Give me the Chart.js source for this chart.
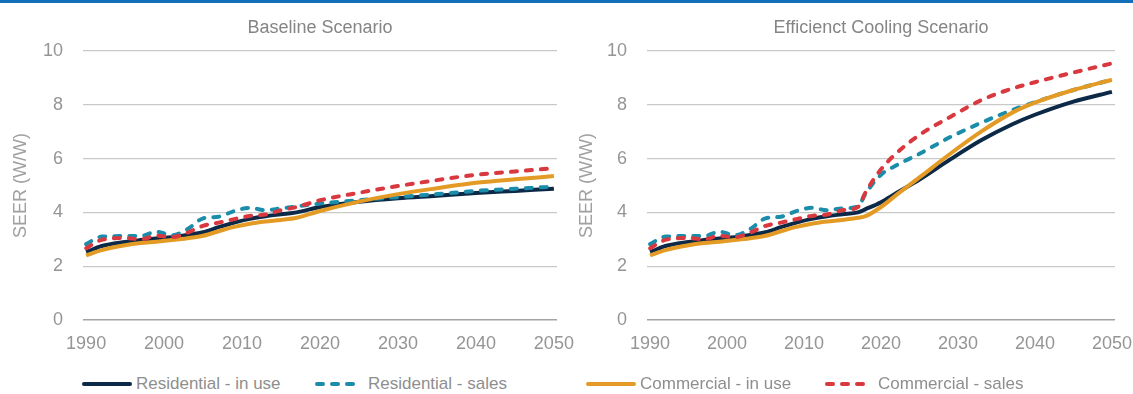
<!DOCTYPE html>
<html>
<head>
<meta charset="utf-8">
<script src="https://cdn.jsdelivr.net/npm/chart.js@4/dist/chart.umd.min.js"></script>
<style>
  body { margin: 0; width: 1133px; height: 394px; background: #fff; overflow: hidden;
         font-family: 'Liberation Sans', Arial, sans-serif; }
  #topbar { position: absolute; left: 0; top: 0; width: 1133px; height: 3px; background: #1170b9; }
  .box { position: absolute; top: 4px; height: 360px; }
  #left { left: 0; width: 590px; }
  #right { left: 566px; width: 567px; }
  .lg { position: absolute; top: 372px; height: 24px; display: flex; align-items: center;
        font-size: 17px; color: #8e8e8e; white-space: nowrap; }
  .lg svg { margin-right: 3px; }
</style>
</head>
<body>
<div id="topbar"></div>
<div class="box" id="left"><canvas id="baseChart"></canvas></div>
<div class="box" id="right"><canvas id="effChart"></canvas></div>
<div id="legend"></div>
<script>
// colours
const col = {
    resUse: '#0c2a47',
    resSales: '#1b8dab',
    comUse: '#e49b25',
    comSales: '#d9383e',
    tick: '#959595',
    grid: '#c9c9c9',
    zero: '#a3a3a3'
};
const FONT = "'Liberation Sans', Arial, sans-serif";

// ---------- data (SEER, W/W) ----------
// history is shared by both scenarios
const histYears = [1990, 1992, 1995, 1997, 1999, 2001, 2003, 2005, 2007, 2009, 2011, 2013, 2015, 2017];
const resUseHist   = [2.52, 2.75, 2.90, 2.97, 3.03, 3.08, 3.16, 3.26, 3.45, 3.62, 3.76, 3.86, 3.93, 4.00];
const resSalesHist = [2.82, 3.10, 3.12, 3.12, 3.28, 3.15, 3.38, 3.78, 3.84, 4.05, 4.17, 4.08, 4.15, 4.22];
const comUseHist   = [2.40, 2.60, 2.78, 2.86, 2.91, 2.97, 3.04, 3.13, 3.30, 3.46, 3.58, 3.66, 3.72, 3.80];
const comSalesHist = [2.67, 2.98, 3.05, 3.00, 3.13, 3.08, 3.25, 3.50, 3.62, 3.75, 3.87, 3.92, 4.08, 4.20];

// baseline projection
const baseYears     = [2020, 2025, 2030, 2035, 2040, 2045, 2050];
const resUseBase    = [4.20, 4.40, 4.53, 4.62, 4.72, 4.80, 4.88];
const resSalesBase  = [4.33, 4.45, 4.57, 4.68, 4.80, 4.88, 4.96];
const comUseBase    = [4.05, 4.40, 4.68, 4.90, 5.10, 5.23, 5.35];
const comSalesBase  = [4.45, 4.73, 4.98, 5.20, 5.40, 5.52, 5.64];

// efficient cooling projection
const effYears     = [2018, 2020, 2022, 2025, 2029, 2033, 2037, 2040, 2045, 2050];
const resUseEff    = [4.12, 4.38, 4.72, 5.22, 5.97, 6.68, 7.27, 7.63, 8.12, 8.48];
const resSalesEff  = [4.70, 5.40, 5.75, 6.18, 6.80, 7.33, 7.80, 8.10, 8.55, 8.93];
const comUseEff    = [3.86, 4.20, 4.65, 5.30, 6.18, 7.00, 7.70, 8.08, 8.55, 8.93];
const comSalesEff  = [4.75, 5.60, 6.20, 6.88, 7.55, 8.17, 8.60, 8.84, 9.20, 9.54];

const seriesNames = ['Residential - in use', 'Residential - sales', 'Commercial - in use', 'Commercial - sales'];
const seriesKeys = ['resUse', 'resSales', 'comUse', 'comSales'];
const yTicks = [0, 2, 4, 6, 8, 10];
const xTicks = [1990, 2000, 2010, 2020, 2030, 2040, 2050];

function pts(years, vals) {
    return years.map((x, i) => ({ x, y: vals[i] }));
}

function makeDatasets(projYears, proj) {
    const hist = [resUseHist, resSalesHist, comUseHist, comSalesHist];
    const drawOrder = [3, 2, 1, 0];
    return seriesKeys.map((k, i) => ({
        label: seriesNames[i],
        data: pts(histYears, hist[i]).concat(pts(projYears, proj[i])),
        borderColor: col[k],
        borderWidth: 4,
        borderDash: k.endsWith('Sales') ? [6, 9] : [],
        borderCapStyle: k.endsWith('Sales') ? 'round' : 'butt',
        pointRadius: 0,
        cubicInterpolationMode: 'monotone',
        order: drawOrder[i]
    }));
}

// title centred over the plot area (not the whole canvas)
const areaTitle = {
    id: 'areaTitle',
    afterDraw(chart, args, opts) {
        const { ctx, chartArea: { left, right } } = chart;
        ctx.save();
        ctx.font = `18px ${FONT}`;
        ctx.fillStyle = '#858585';
        ctx.textAlign = 'center';
        ctx.textBaseline = 'middle';
        ctx.fillText(opts.text, (left + right) / 2, 24);
        ctx.restore();
    }
};

function makeChart(id, title, datasets, yWidth, padRight) {
    return new Chart(document.getElementById(id), {
        type: 'line',
        data: { datasets },
        options: {
            responsive: true, maintainAspectRatio: false, animation: false,
            layout: { padding: { left: 0, right: padRight, top: 47, bottom: 0 } },
            plugins: {
                legend: { display: false },
                tooltip: { enabled: false },
                areaTitle: { text: title }
            },
            scales: {
                x: {
                    type: 'linear', min: 1989.6, max: 2050.4,
                    afterBuildTicks: s => { s.ticks = xTicks.map(v => ({ value: v })); },
                    afterFit: s => { s.height = 44; s.paddingLeft = 0; s.paddingRight = 0; },
                    grid: { display: false, drawTicks: false },
                    border: { display: false },
                    ticks: {
                        color: col.tick, padding: 13, maxRotation: 0,
                        font: { family: FONT, size: 18 },
                        callback: v => String(v)
                    }
                },
                y: {
                    min: 0, max: 10,
                    afterBuildTicks: s => { s.ticks = yTicks.map(v => ({ value: v })); },
                    afterFit: s => { s.width = yWidth; s.paddingTop = 0; },
                    grid: {
                        drawTicks: false,
                        color: c => c.tick && c.tick.value === 0 ? col.zero : col.grid,
                        lineWidth: c => c.tick && c.tick.value === 0 ? 1.6 : 1.3
                    },
                    border: { display: false },
                    ticks: { color: col.tick, padding: 20, font: { family: FONT, size: 18 } },
                    title: {
                        display: true, text: 'SEER (W/W)', color: '#a0a0a0',
                        font: { family: FONT, size: 18 }, padding: { top: 10, bottom: 0 }
                    }
                }
            }
        },
        plugins: [areaTitle]
    });
}

makeChart('baseChart', 'Baseline Scenario',
    makeDatasets(baseYears, [resUseBase, resSalesBase, comUseBase, comSalesBase]), 83, 33);
makeChart('effChart', 'Efficienct Cooling Scenario',
    makeDatasets(effYears, [resUseEff, resSalesEff, comUseEff, comSalesEff]), 81, 18);

// legend (html)
const legendPos = [82, 315, 586, 825];
const legendLen = [48, 41, 48, 41];
const legend = document.getElementById('legend');
seriesKeys.forEach((k, i) => {
    const dashed = k.endsWith('Sales');
    const el = document.createElement('div');
    el.className = 'lg';
    el.style.left = legendPos[i] + 'px';
    const w = legendLen[i];
    el.innerHTML =
        `<svg width="${w + (dashed ? 9 : 3)}" height="8"><line x1="2" y1="4" x2="${w}" y2="4" stroke="${col[k]}" stroke-width="4"
          stroke-linecap="round" ${dashed ? 'stroke-dasharray="6 9"' : ''}/></svg>` +
        `<span>${seriesNames[i]}</span>`;
    legend.appendChild(el);
});
</script>
</body>
</html>
